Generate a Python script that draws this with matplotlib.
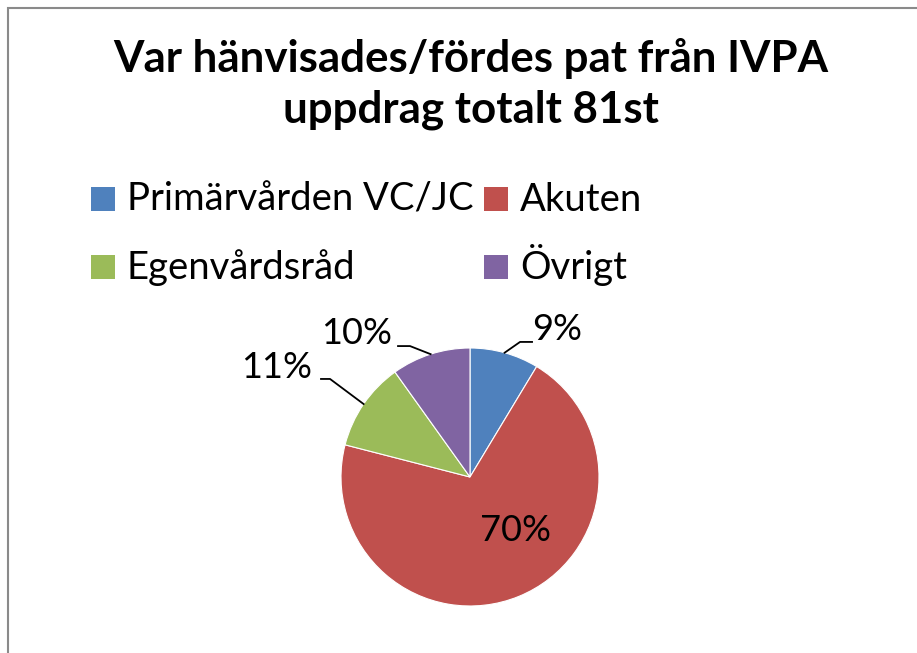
import numpy as np
import matplotlib
matplotlib.use('Agg')
import matplotlib.pyplot as plt
from matplotlib.patches import Rectangle

plt.rcParams['font.family'] = ['Lato', 'DejaVu Sans']

# data
categories = ['Primärvården VC/JC', 'Akuten', 'Egenvårdsråd', 'Övrigt']
counts = [7, 57, 9, 8]
pct_labels = ['9%', '70%', '11%', '10%']
colors = ['#4F81BD', '#C0504D', '#9BBB59', '#8064A2']
title_lines = ['Var hänvisades/fördes pat från IVPA', 'uppdrag totalt 81st']

W, H = 917, 653
fig = plt.figure(figsize=(W / 100, H / 100), dpi=100)

# frame around the chart
fig.patches.append(Rectangle((8 / W, -0.1), 1.2, 1.1 - 8 / H, transform=fig.transFigure,
                             fill=False, edgecolor='#8a8a8a', lw=1.5))

# pie centred at (470, 477) px, radius 129 px
cx, cy, r = 470, 477, 129
ax = fig.add_axes([(cx - r) / W, (H - cy - r) / H, 2 * r / W, 2 * r / H])
wedges, _ = ax.pie(counts, colors=colors, startangle=90, counterclock=False, radius=1,
                   wedgeprops=dict(edgecolor='white', linewidth=0.8))
ax.set_xlim(-1, 1)
ax.set_ylim(-1, 1)
ax.set_aspect('equal')
ax.axis('off')

# label layout: text centre, elbow of leader (None = inside label)
text_pos = [(0.674, 1.14), (0.349, -0.411), (-1.496, 0.845), (-0.876, 1.116)]
elbows = [[(0.388, 1.047), (0.481, 1.047)],
          None,
          [(-1.085, 0.760), (-1.155, 0.760)],
          [(-0.465, 1.015), (-0.558, 1.015)]]

for w, lab, tp, el in zip(wedges, pct_labels, text_pos, elbows):
    mid = np.deg2rad((w.theta1 + w.theta2) / 2)
    ax.text(tp[0], tp[1], lab, ha='center', va='center', fontsize=26, clip_on=False)
    if el is not None:
        xs = [np.cos(mid)] + [p[0] for p in el]
        ys = [np.sin(mid)] + [p[1] for p in el]
        ax.plot(xs, ys, color='black', lw=1.3, clip_on=False)

# title, two lines on their baselines
for line, base in zip(title_lines, [72, 123]):
    fig.text(471 / W, 1 - base / H, line, ha='center', va='baseline', fontsize=31.6,
             fontweight='bold')

# legend laid out in a 2x2 grid (row-wise, like the original)
col_x = [91, 484]
row_base = [211, 279]
box = 24
for i, (name, c) in enumerate(zip(categories, colors)):
    x0 = col_x[i % 2]
    b = row_base[i // 2]
    fig.patches.append(Rectangle((x0 / W, 1 - b / H), box / W, box / H,
                                 transform=fig.transFigure, facecolor=c, edgecolor='none'))
    fig.text((x0 + 36) / W, 1 - b / H, name, ha='left', va='baseline', fontsize=27.5)

fig.savefig('out.png', dpi=100)
